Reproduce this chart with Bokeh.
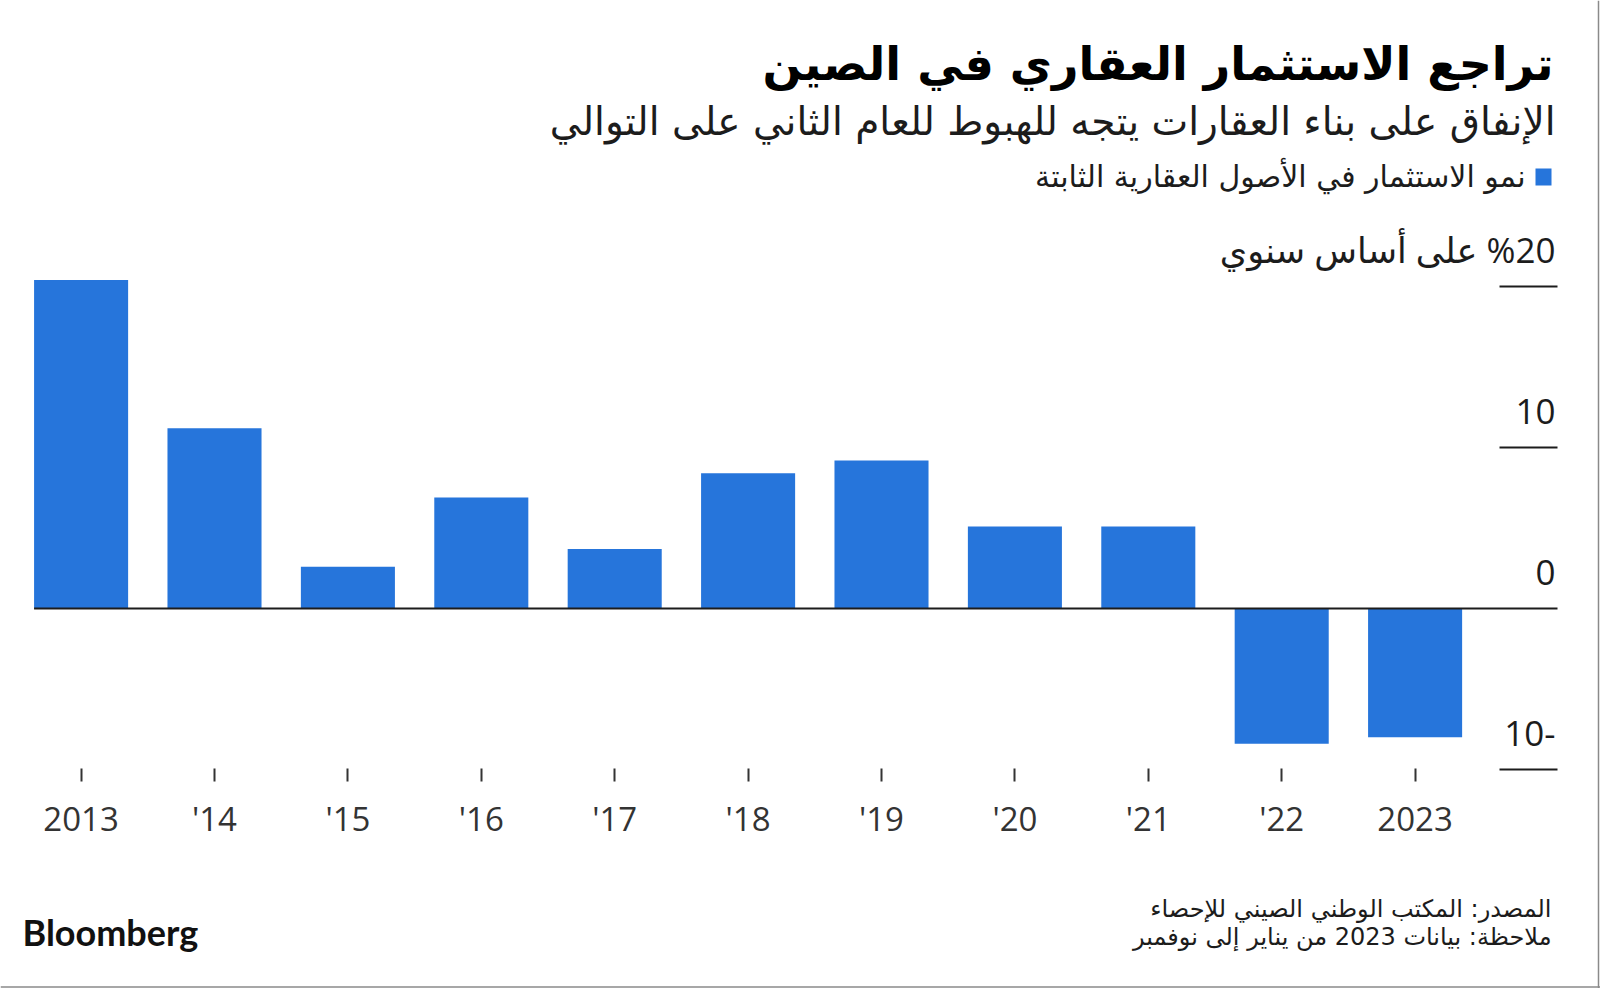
from bokeh.plotting import figure
from bokeh.models import Range1d, FixedTicker, Label, BoxAnnotation, ColumnDataSource, Span
from bokeh.embed import file_html
from bokeh.resources import INLINE
from bokeh.core.properties import value

# ---------------- data ----------------
years = ["2013", "'14", "'15", "'16", "'17", "'18", "'19", "'20", "'21", "'22", "2023"]
growth = [20.4, 11.2, 2.6, 6.9, 3.7, 8.4, 9.2, 5.1, 5.1, -8.4, -8.0]
y_ticks = [20, 10, 0, -10]
y_tick_labels = ["%20 على أساس سنوي", "10", "0", "-10"]

title = "تراجع الاستثمار العقاري في الصين"
subtitle = "الإنفاق على بناء العقارات يتجه للهبوط للعام الثاني على التوالي"
legend_label = "نمو الاستثمار في الأصول العقارية الثابتة"
source_note = "المصدر: المكتب الوطني الصيني للإحصاء"
note = "ملاحظة: بيانات 2023 من يناير إلى نوفمبر"

# ---------------- style / geometry ----------------
BLUE = "#2675DB"
DARK = "#1c1c1c"
RLE, PDF = "\u202b", "\u202c"


def rtl(s):
    return RLE + s + PDF


W, H = 1600, 988
PXU_X = 133.4          # px per category
PXU_Y = 16.1           # px per percentage point
ZERO_Y = 608           # canvas y of the zero line
FIRST_X = 80.6         # canvas x of first category centre
LINE_RIGHT = 1557      # canvas x where rules end
AXIS_Y = 770           # canvas y of the category axis

x_start = -FIRST_X / PXU_X
x_end = x_start + W / PXU_X
rule_end = x_start + LINE_RIGHT / PXU_X
y_end = ZERO_Y / PXU_Y
y_start = (ZERO_Y - H) / PXU_Y
axis_loc = (ZERO_Y - AXIS_Y) / PXU_Y

p = figure(width=W, height=H, output_backend="svg", toolbar_location=None,
           x_range=Range1d(x_start, x_end), y_range=Range1d(y_start, y_end),
           y_axis_location=None,
           min_border_left=0, min_border_right=0, min_border_top=0, min_border_bottom=0)
p.outline_line_color = None
p.grid.visible = False
p.background_fill_color = "white"
p.border_fill_color = "white"

# x axis drawn at a fixed location inside the frame
xa = p.xaxis[0]
xa.fixed_location = axis_loc
xa.ticker = FixedTicker(ticks=list(range(len(years))))
xa.major_label_overrides = {i: y for i, y in enumerate(years)}
xa.axis_line_color = None
xa.major_tick_line_color = "#333333"
xa.major_tick_line_width = 2
xa.major_tick_in = 2
xa.major_tick_out = 11
xa.minor_tick_line_color = None
xa.major_label_text_font = "Open Sans"
xa.major_label_text_font_size = "33px"
xa.major_label_text_color = "#333333"
xa.major_label_standoff = 14

# bars
BAR_W = 0.705
src = ColumnDataSource(dict(x=list(range(len(years))), top=growth))
p.vbar(x="x", top="top", bottom=0, width=BAR_W, fill_color=BLUE, line_color=None, source=src)

# zero line
p.segment(x0=[-BAR_W / 2], y0=[0], x1=[rule_end], y1=[0], line_color=DARK, line_width=2)

# short grid lines at right
GRID_LEN = 58 / PXU_X
gticks = [t for t in y_ticks if t != 0]
p.segment(x0=[rule_end - GRID_LEN] * len(gticks), y0=gticks,
          x1=[rule_end] * len(gticks), y1=gticks, line_color=DARK, line_width=2)

# y tick labels
p.text(x=[rule_end] * len(y_ticks), y=y_ticks, text=[rtl(t) for t in y_tick_labels],
       text_align="right", text_baseline="alphabetic", x_offset=-2, y_offset=-37,
       text_font=value("Open Sans, DejaVu Sans"), text_font_size="35px", text_color=DARK)


# ---------------- texts (page px -> frame screen units) ----------------
def lab(text, fx, fy, size, bold=False, align="right", font="DejaVu Sans", color=DARK):
    p.add_layout(Label(x=fx, y=H - fy, x_units="screen", y_units="screen",
                       text=text, text_align=align, text_baseline="alphabetic",
                       text_font=font, text_font_size=f"{size}px",
                       text_font_style="bold" if bold else "normal", text_color=color))


lab(rtl(title), 1553, 63, 46, bold=True, color="#000000")
lab(rtl(subtitle), 1555, 121, 39)
lab(rtl(legend_label), 1525, 176, 30)
lab(rtl(source_note), 1551, 908, 24)
lab(rtl(note), 1551, 936, 24)
lab("Bloomberg", 22, 931, 36, bold=True, align="left", font="Lato", color="#111111")

# legend swatch
p.add_layout(BoxAnnotation(left=1535, right=1551, top=H - 168, bottom=H - 185,
                           left_units="screen", right_units="screen",
                           top_units="screen", bottom_units="screen",
                           fill_color=BLUE, fill_alpha=1.0, line_color=None))

# thin frame lines at the right and bottom edges of the graphic
p.add_layout(Span(location=1598, location_units="screen", dimension="height",
                  line_color="#8a8a8a", line_width=1.5))
p.add_layout(Span(location=H - 986.5, location_units="screen", dimension="width",
                  line_color="#8a8a8a", line_width=1.5))

open("out.html", "w").write(file_html(p, INLINE))
